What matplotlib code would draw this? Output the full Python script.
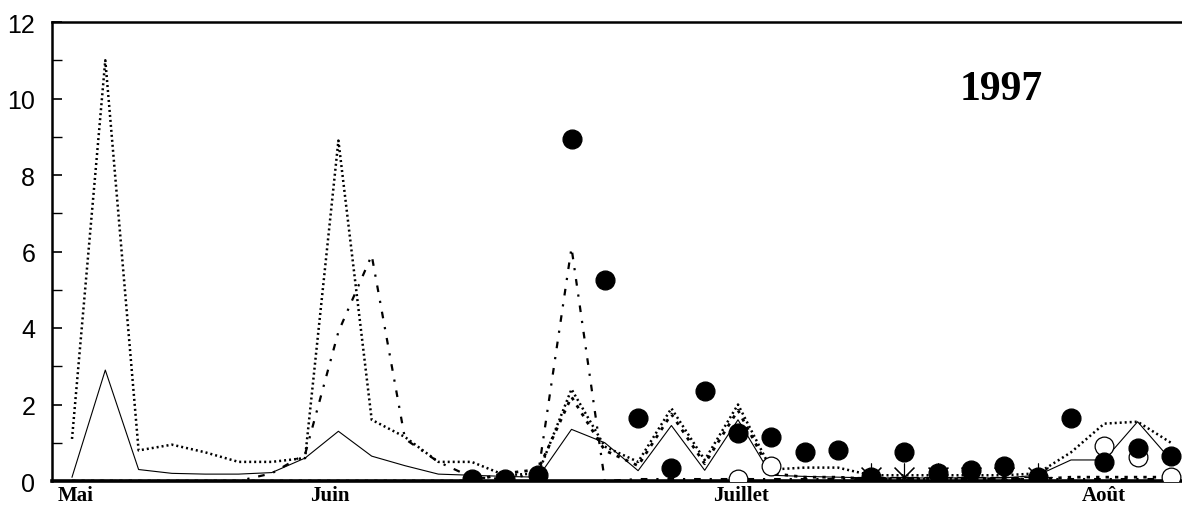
import numpy as np
import matplotlib
matplotlib.use("Agg")
import matplotlib.pyplot as plt

# sampling dates, twice a week from early May to mid August (index of sample)
n_samples = 34
samples = np.arange(n_samples)

# month labels and where they sit on the sample axis
months = ["Mai", "Juin", "Juillet", "Août"]
month_pos = [0.1, 7.75, 20.1, 31.0]

nan = np.nan

# dotted line
dotted = [1.1, 11.0, 0.8, 0.95, 0.75, 0.5, 0.5, 0.6, 8.9, 1.6,
          1.15, 0.5, 0.5, 0.15, 0.2, 2.4, 0.9, 0.5, 1.9, 0.55,
          2.0, 0.3, 0.35, 0.35, 0.15, 0.15, 0.15, 0.15, 0.15, 0.2,
          0.75, 1.5, 1.55, 1.0]

# solid line
solid = [0.1, 2.9, 0.3, 0.2, 0.18, 0.18, 0.22, 0.6, 1.3, 0.65,
         0.4, 0.18, 0.15, 0.12, 0.1, 1.35, 1.0, 0.27, 1.45, 0.28,
         1.6, 0.15, 0.12, 0.1, 0.08, 0.08, 0.08, 0.08, 0.08, 0.15,
         0.55, 0.55, 1.55, 0.55]

# dash-dot line
dashdot = [0.0, 0.0, 0.0, 0.0, 0.0, 0.0, 0.2, 0.7, 3.9, 5.9,
           1.1, 0.5, 0.1, 0.05, 0.2, 6.1, 0.0, 0.05, 0.05, 0.05,
           0.05, 0.05, 0.05, 0.05, 0.05, 0.05, 0.05, 0.05, 0.05, 0.05,
           0.05, 0.05, 0.05, 0.05]

# heavy short-dash line (July)
dashed = [0.0, 0.0, 0.0, 0.0, 0.0, 0.0, 0.0, 0.0, 0.0, 0.0,
          0.0, 0.0, 0.0, 0.2, 0.3, 2.2, 0.8, 0.4, 1.75, 0.45,
          1.85, 0.2, 0.1, 0.1, 0.05, 0.05, 0.05, 0.05, 0.05, 0.05,
          0.1, 0.1, 0.1, 0.1]

# filled circles
filled = [nan] * 12 + [0.05, 0.05, 0.15, 8.95, 5.25, 1.65, 0.35, 2.35,
                       1.25, 1.15, 0.75, 0.8, 0.1, 0.75, 0.2, 0.3,
                       0.4, 0.1, 1.65, 0.5, 0.85, 0.65]

# open circles
hollow = [nan] * 20 + [0.05, 0.4] + [nan] * 9 + [0.92, 0.63, 0.1]

# crosses
crosses = [nan] * 24 + [0.1, 0.1, 0.1, 0.1, 0.1, 0.1] + [nan] * 4

fig = plt.figure(figsize=(11.82, 5.06), dpi=100)
ax = fig.add_axes([52 / 1182, 1 - 482 / 506, 1 - 52 / 1182, (482 - 23) / 506])

ax.plot(samples, dotted, color="black", lw=1.8, linestyle=(0, (0.8, 1.2)), zorder=3)
ax.plot(samples, solid, color="black", lw=0.8, linestyle="-", zorder=3)
ax.plot(samples, dashdot, color="black", lw=1.6, linestyle=(0, (3, 4, 1, 4)), zorder=3)
ax.plot(samples, dashed, color="black", lw=2.0, linestyle=(0, (1.2, 2.2)), zorder=3)

ax.plot(samples, crosses, linestyle="none", marker=(8, 2, 0), markersize=20,
        markeredgecolor="black", markeredgewidth=0.8, zorder=4)
ax.plot(samples, hollow, linestyle="none", marker="o", markersize=13.5,
        markerfacecolor="white", markeredgecolor="black", markeredgewidth=0.9, zorder=4)
ax.plot(samples, filled, linestyle="none", marker="o", markersize=13.5,
        markerfacecolor="black", markeredgecolor="black", zorder=5)

ax.set_xlim((52 - 72) / 33.3, (1182 - 72) / 33.3)
ax.set_ylim(0, 12)

ax.set_yticks(np.arange(0, 13, 2))
ax.set_yticks(np.arange(1, 12, 2), minor=True)
ax.tick_params(axis="y", which="major", direction="in", length=7, width=1.2, pad=12,
               labelsize=18)
ax.tick_params(axis="y", which="minor", direction="in", length=7, width=1.0)
for lab in ax.get_yticklabels():
    lab.set_fontfamily("Liberation Sans")

ax.set_xticks(month_pos)
ax.set_xticklabels(months, fontfamily="Liberation Serif", fontweight="bold", fontsize=15)
ax.tick_params(axis="x", length=0, pad=3)

ax.spines["right"].set_visible(False)
ax.spines["bottom"].set_linewidth(2.6)
ax.spines["left"].set_linewidth(1.8)
ax.spines["top"].set_linewidth(1.8)

fig.text(1001 / 1182, 1 - 90 / 506, "1997", fontfamily="Liberation Serif",
         fontweight="bold", fontsize=30, ha="center", va="center")

fig.savefig("out.png", dpi=100)
